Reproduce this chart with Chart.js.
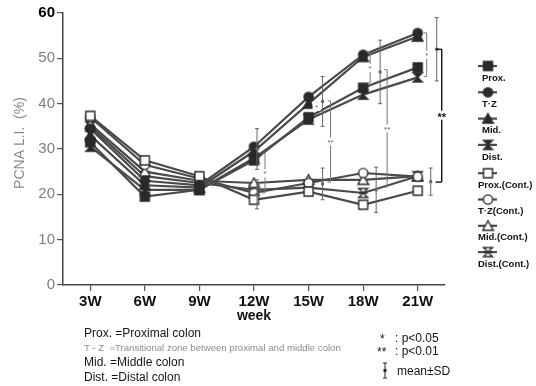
<!DOCTYPE html>
<html>
<head>
<meta charset="utf-8">
<script src="https://cdn.jsdelivr.net/npm/chart.js@4.4.0/dist/chart.umd.min.js"></script>
<style>
	html, body { margin: 0; padding: 0; background: #fff; }
	#wrap { position: relative; width: 536px; height: 386px; font-family: "Liberation Sans", Arial, sans-serif; }
	#wrap canvas { position: absolute; left: 0; top: 0; }
	.note { position: absolute; white-space: pre; color: #151515; font-size: 12px; line-height: 14px; }
	.small { font-size: 9.6px; color: #8c8c8c; line-height: 11px; }
</style>
</head>
<body>
<div id="wrap">
	<canvas id="pcna" width="536" height="386"></canvas>

	<div class="note" style="left:84px;top:326px">Prox. =Proximal colon</div>
	<div class="note small" style="left:84px;top:342px">T - Z  =Transitional zone between proximal and middle colon</div>
	<div class="note" style="left:84px;top:355px">Mid. =Middle colon</div>
	<div class="note" style="left:84px;top:370px">Dist. =Distal colon</div>

	<div class="note" style="left:380px;top:332px">*</div>
	<div class="note" style="left:395px;top:331px">: p&lt;0.05</div>
	<div class="note" style="left:377px;top:345px">**</div>
	<div class="note" style="left:395px;top:344px">: p&lt;0.01</div>
	<svg style="position:absolute;left:381px;top:362px" width="8" height="17">
		<line x1="4" y1="1" x2="4" y2="16" stroke="#222" stroke-width="1"/>
		<line x1="2" y1="1" x2="6" y2="1" stroke="#222" stroke-width="1"/>
		<line x1="2" y1="16" x2="6" y2="16" stroke="#222" stroke-width="1"/>
		<rect x="2.5" y="7" width="3" height="3" fill="#222"/>
	</svg>
	<div class="note" style="left:397px;top:364px">mean±SD</div>
</div>

<script>
// ---- data ----
const weeks = [ '3W', '6W', '9W', '12W', '15W', '18W', '21W' ];

const prox     = [ 31.5, 19.5, 21.0, 27.5, 37.0, 43.5, 48.0 ];
const tz       = [ 34.5, 23.0, 22.0, 30.5, 41.5, 50.8, 55.6 ];
const mid      = [ 33.0, 22.0, 21.5, 29.5, 40.0, 50.3, 54.8 ];
const dist     = [ 30.5, 21.0, 21.0, 28.0, 36.5, 42.0, 45.8 ];
const proxCont = [ 37.3, 27.5, 24.0, 18.8, 20.6, 17.7, 20.8 ];
const tzCont   = [ 37.0, 26.5, 23.5, 20.3, 22.5, 24.7, 23.9 ];
const midCont  = [ 35.5, 25.0, 23.0, 22.5, 23.2, 23.2, 24.0 ];
const distCont = [ 35.0, 24.0, 22.5, 21.0, 21.5, 20.3, 24.0 ];

const yTicks = [ 0, 10, 20, 30, 40, 50, 60 ];

// mean ± SD bars (week index, mean, sd)
const sdWeek     = [ 3, 4, 5, 6 ];
const sdTreatM   = [ 30.0, 40.5, 47.0, 52.0 ];
const sdTreatSd  = [ 4.5, 5.5, 7.0, 7.0 ];
const sdContM    = [ 20.0, 22.3, 21.0, 22.8 ];
const sdContSd   = [ 3.2, 3.5, 5.0, 3.0 ];

// significance marks (week index, from, to, mark)
const sigWeek = [ 3, 4, 4, 5, 5, 6 ];
const sigFrom = [ 29.0, 39.3, 40.6, 51.2, 47.5, 55.6 ];
const sigTo   = [ 20.3, 39.3, 22.7, 44.6, 21.6, 46.0 ];
const sigMark = [ '*', '*', '**', '*', '**', '*' ];
const bracketFrom = 52.0;
const bracketTo   = 22.7;

// ---- drawing ----
const FONT = '"Liberation Sans", Arial, sans-serif';
const INK  = '#2a2a2a';
const LINE = '#4a4a4a';

// small canvases used as point styles
function marker( shape, filled ) {
	const s  = 13;
	const cv = document.createElement( 'canvas' );
	cv.width = s; cv.height = s;
	const c = cv.getContext( '2d' );
	c.lineWidth   = 1.4;
	c.strokeStyle = INK;
	c.fillStyle   = filled ? INK : '#fff';
	c.beginPath();
	if ( shape === 'square' ) {
		c.rect( 2, 2, 9, 9 );
	} else if ( shape === 'circle' ) {
		c.arc( 6.5, 6.5, 4.6, 0, Math.PI * 2 );
	} else if ( shape === 'triangle' ) {
		c.moveTo( 6.5, 1.5 ); c.lineTo( 11.8, 11 ); c.lineTo( 1.2, 11 ); c.closePath();
	} else {
		c.moveTo( 2, 2 ); c.lineTo( 11, 2 ); c.lineTo( 2, 11 ); c.lineTo( 11, 11 ); c.closePath();
	}
	c.fill();
	c.stroke();
	if ( shape === 'hourglass' && ! filled ) {
		c.beginPath(); c.moveTo( 2, 6.5 ); c.lineTo( 11, 6.5 ); c.stroke();
	}
	return cv;
}

function series( label, data, shape, filled ) {
	return {
		label:           label,
		data:            data,
		borderColor:     LINE,
		borderWidth:     2.2,
		backgroundColor: LINE,
		pointStyle:      marker( shape, filled ),
		tension:         0,
		fill:            false,
	};
}

const datasets = [
	series( 'Prox.',       prox,     'square',    true ),
	series( 'T·Z',         tz,       'circle',    true ),
	series( 'Mid.',        mid,      'triangle',  true ),
	series( 'Dist.',       dist,     'hourglass', true ),
	series( 'Prox.(Cont.)', proxCont, 'square',    false ),
	series( 'T·Z(Cont.)',  tzCont,   'circle',    false ),
	series( 'Mid.(Cont.)', midCont,  'triangle',  false ),
	series( 'Dist.(Cont.)', distCont, 'hourglass', false ),
];

function seg( ctx, x1, y1, x2, y2 ) {
	ctx.beginPath(); ctx.moveTo( x1, y1 ); ctx.lineTo( x2, y2 ); ctx.stroke();
}

const annotate = {
	id: 'annotate',
	afterDatasetsDraw( chart ) {
		const ctx = chart.ctx, xs = chart.scales.x, ys = chart.scales.y;
		const treatShift = [ 3, 14, 17, 19 ];
		const contShift  = [ 3, 14, 13, 13 ];
		const sigShift   = [ 11, 8, 22, 7, 24, 9 ];

		ctx.save();
		function sdBar( i, m, sd, dx ) {
			const px  = xs.getPixelForValue( i ) + dx;
			const top = ys.getPixelForValue( m + sd );
			const bot = ys.getPixelForValue( m - sd );
			const mp  = ys.getPixelForValue( m );
			ctx.strokeStyle = '#666'; ctx.lineWidth = 1;
			seg( ctx, px, top, px, bot );
			seg( ctx, px - 2, top, px + 2, top );
			seg( ctx, px - 2, bot, px + 2, bot );
			ctx.fillStyle = '#666';
			ctx.fillRect( px - 1.5, mp - 1.5, 3, 3 );
		}
		sdWeek.forEach( function ( w, k ) {
			sdBar( w, sdTreatM[ k ], sdTreatSd[ k ], treatShift[ k ] );
			sdBar( w, sdContM[ k ], sdContSd[ k ], contShift[ k ] );
		} );

		ctx.font = '8px ' + FONT;
		ctx.textAlign = 'center';
		ctx.textBaseline = 'middle';
		sigWeek.forEach( function ( w, k ) {
			const px = xs.getPixelForValue( w ) + sigShift[ k ];
			const a  = ys.getPixelForValue( sigFrom[ k ] );
			const b  = ys.getPixelForValue( sigTo[ k ] );
			ctx.strokeStyle = '#777'; ctx.lineWidth = 1;
			if ( b - a > 2 ) {
				seg( ctx, px, a, px, b );
				seg( ctx, px - 3, a, px, a );
				seg( ctx, px - 3, b, px, b );
			}
			const my = ( a + b ) / 2;
			ctx.fillStyle = '#fff';
			ctx.fillRect( px - 4, my - 4, 8, 8 );
			ctx.fillStyle = '#666';
			ctx.fillText( sigMark[ k ], px, my + 1 );
		} );

		// bracket between treated and control at 21W
		const bx = xs.getPixelForValue( 6 ) + 24;
		const ba = ys.getPixelForValue( bracketFrom );
		const bb = ys.getPixelForValue( bracketTo );
		ctx.strokeStyle = '#111'; ctx.lineWidth = 1.4;
		seg( ctx, bx, ba, bx, bb );
		seg( ctx, bx - 6, ba, bx, ba );
		seg( ctx, bx - 6, bb, bx, bb );
		const bm = ( ba + bb ) / 2;
		ctx.fillStyle = '#fff';
		ctx.fillRect( bx - 6, bm - 5, 12, 9 );
		ctx.fillStyle = '#111';
		ctx.font = 'bold 11px ' + FONT;
		ctx.fillText( '**', bx, bm + 2 );
		ctx.restore();
	},
	afterDraw( chart ) {
		const ctx = chart.ctx;
		ctx.save();
		// y title
		ctx.translate( 20, 143 );
		ctx.rotate( -Math.PI / 2 );
		ctx.fillStyle = '#8a8a8a';
		ctx.font = '14px ' + FONT;
		ctx.textAlign = 'center';
		ctx.textBaseline = 'middle';
		ctx.fillText( 'PCNA L.I.  (%)', 0, 0 );
		ctx.restore();

		// legend, marker above its label
		ctx.save();
		ctx.font = 'bold 9.5px ' + FONT;
		ctx.textBaseline = 'middle';
		ctx.fillStyle = '#111';
		chart.data.datasets.forEach( function ( ds, i ) {
			const y = 66 + i * 26.3 + ( i >= 4 ? 2 : 0 );
			ctx.strokeStyle = LINE; ctx.lineWidth = 2.2;
			seg( ctx, 478, y, 497, y );
			ctx.drawImage( ds.pointStyle, 488 - 6.5, y - 6.5 );
			ctx.fillText( ds.label, i >= 4 ? 478 : 482, y + 12 );
		} );
		ctx.restore();
	},
};

new Chart( document.getElementById( 'pcna' ), {
	type: 'line',
	data: { labels: weeks, datasets: datasets },
	plugins: [ annotate ],
	options: {
		responsive: false,
		animation:  false,
		layout: { padding: { left: 0, right: 91, top: 13, bottom: 61 } },
		plugins: {
			legend:  { display: false },
			tooltip: { enabled: false },
		},
		scales: {
			x: {
				offset: true,
				afterFit: function ( s ) { s.height = 40; },
				grid:   { display: true, drawOnChartArea: false, tickLength: 6, color: '#555', lineWidth: 1.2 },
				border: { display: true, color: '#444', width: 1.5 },
				ticks:  { color: '#111', padding: 2, font: { family: FONT, size: 15, weight: 'bold' } },
				title:  { display: true, text: 'week', color: '#111', padding: 0, font: { family: FONT, size: 14, weight: 'bold' } },
			},
			y: {
				min: 0,
				max: 60,
				afterFit: function ( s ) { s.width = 63; },
				afterBuildTicks: function ( s ) { s.ticks = yTicks.map( function ( v ) { return { value: v }; } ); },
				grid:   { display: true, drawOnChartArea: false, tickLength: 6, color: '#555', lineWidth: 1.2 },
				border: { display: true, color: '#444', width: 1.5 },
				ticks: {
					padding: 2,
					color: function ( c ) { return c.tick && c.tick.value === 60 ? '#000' : '#808080'; },
					font:  function ( c ) {
						return { family: FONT, size: 15, weight: ( c.tick && c.tick.value === 60 ) ? 'bold' : 'normal' };
					},
				},
			},
		},
	},
} );
</script>
</body>
</html>
